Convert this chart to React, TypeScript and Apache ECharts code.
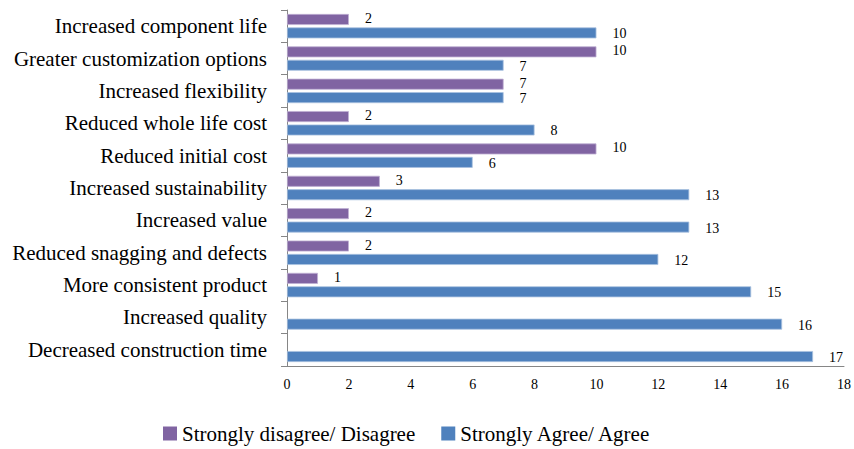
import React, { useEffect, useRef } from "react";
import * as echarts from "echarts";

const categories = [
  "Decreased construction time",
  "Increased quality",
  "More consistent product",
  "Reduced snagging and defects",
  "Increased value",
  "Increased sustainability",
  "Reduced initial cost",
  "Reduced whole life cost",
  "Increased flexibility",
  "Greater customization options",
  "Increased component life",
];
const disagree: (number | null)[] = [null, null, 1, 2, 2, 3, 10, 2, 7, 10, 2];
const agree: number[] = [17, 16, 15, 12, 13, 13, 6, 8, 7, 7, 10];
const xTicks = { min: 0, max: 18, interval: 2 };
const seriesNames = ["Strongly disagree/ Disagree", "Strongly Agree/ Agree"];

const FONT = '"Liberation Serif", "Times New Roman", Times, serif';

export default function App() {
  const ref = useRef<HTMLDivElement>(null);
  useEffect(() => {
    if (!ref.current) return;
    const chart = echarts.init(ref.current, null, { renderer: "svg" });
    const label = (dy: number) => ({
      show: true,
      position: "right" as const,
      distance: 16,
      offset: [0, dy],
      fontFamily: FONT,
      fontSize: 14,
      lineHeight: 12,
      color: "#000",
    });
    chart.setOption({
      animation: false,
      grid: { left: 287, right: 9, top: 10, bottom: 83, containLabel: false },
      legend: {
        data: seriesNames,
        bottom: 0,
        left: 158,
        itemWidth: 14,
        itemHeight: 14,
        itemGap: 26,
        icon: "rect",
        itemStyle: { borderWidth: 0 },
        textStyle: { fontFamily: FONT, fontSize: 21, color: "#000" },
      },
      xAxis: {
        type: "value",
        min: xTicks.min,
        max: xTicks.max,
        interval: xTicks.interval,
        splitLine: { show: false },
        axisTick: { show: false },
        axisLine: { show: true, lineStyle: { color: "#868686", width: 1 } },
        axisLabel: { fontFamily: FONT, fontSize: 14, color: "#000", margin: 11 },
      },
      yAxis: {
        type: "category",
        data: categories,
        axisLine: { show: true, lineStyle: { color: "#868686", width: 1 } },
        axisTick: { show: true, length: 6, lineStyle: { color: "#868686" } },
        axisLabel: { fontFamily: FONT, fontSize: 21, color: "#000", margin: 20 },
      },
      series: [
        {
          name: seriesNames[0],
          type: "bar",
          data: disagree,
          barWidth: 11,
          barGap: "22%",
          itemStyle: { color: "#8064A2", borderColor: "#bfb0d3", borderWidth: 0.8 },
          label: label(-1),
        },
        {
          name: seriesNames[1],
          type: "bar",
          data: agree,
          barWidth: 11,
          barGap: "22%",
          itemStyle: { color: "#4F81BD", borderColor: "#a9c1e0", borderWidth: 0.8 },
          label: label(1),
        },
      ],
    });
    return () => chart.dispose();
  }, []);
  return <div ref={ref} style={{ width: 854, height: 449, position: "absolute", left: 0, top: 0 }} />;
}
